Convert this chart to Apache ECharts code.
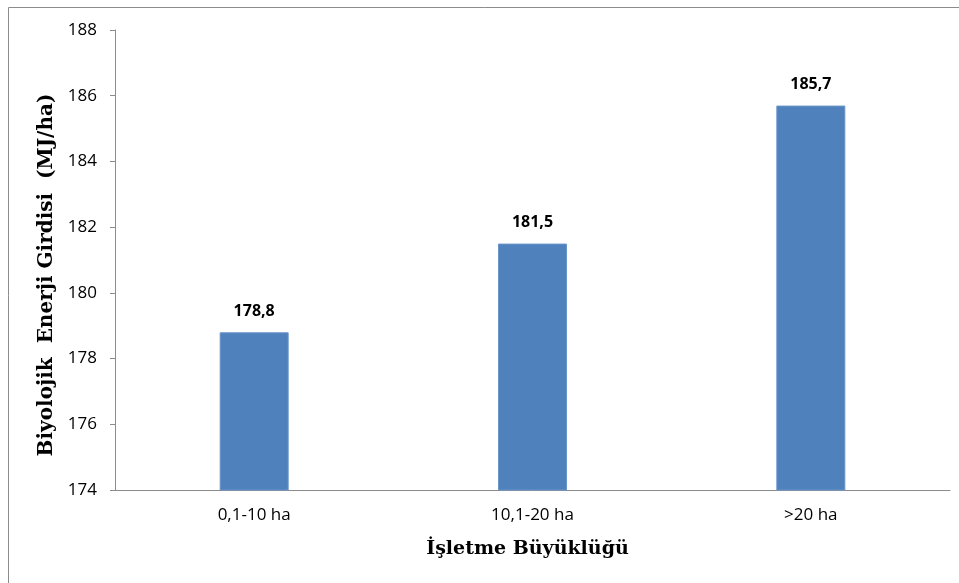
<!DOCTYPE html>
<html>
<head>
<meta charset="utf-8">
<script src="https://cdn.jsdelivr.net/npm/echarts@6/dist/echarts.min.js"></script>
<style>
  html, body { margin: 0; padding: 0; background: #fff; }
  #chart { width: 959px; height: 583px; }
</style>
</head>
<body>
<div id="chart"></div>
<script>
// Farm size classes and biological energy input per hectare
const categories = ['0,1-10 ha', '10,1-20 ha', '>20 ha'];
const energyInput = [178.8, 181.5, 185.7];
const yTicks = { min: 174, max: 188, interval: 2 };

const xTitle = 'İşletme Büyüklüğü';
const yTitle = 'Biyolojik  Enerji Girdisi  (MJ/ha)';

const chart = echarts.init(document.getElementById('chart'), null, { renderer: 'canvas' });

const sansFont = '"Open Sans", "Noto Sans", sans-serif';
const serifFont = '"DejaVu Serif", "Liberation Serif", serif';

chart.setOption({
  animation: false,
  backgroundColor: '#ffffff',
  graphic: [{
    type: 'rect',
    silent: true,
    shape: { x: 8.5, y: 7.5, width: 1000, height: 620 },
    style: { fill: 'none', stroke: '#8c8c8c', lineWidth: 1 }
  }],
  grid: { left: 115, right: 9, top: 30, bottom: 93 },
  xAxis: {
    type: 'category',
    data: categories,
    name: xTitle,
    nameLocation: 'middle',
    nameGap: 50,
    nameTextStyle: { fontFamily: serifFont, fontWeight: 'bold', fontSize: 19, color: '#000', padding: [0, 10, 0, 0] },
    axisLine: { lineStyle: { color: '#8c8c8c', width: 1 } },
    axisTick: { show: false },
    axisLabel: { fontFamily: sansFont, fontSize: 17, color: '#000', margin: 17 }
  },
  yAxis: {
    type: 'value',
    min: yTicks.min,
    max: yTicks.max,
    interval: yTicks.interval,
    name: yTitle,
    nameLocation: 'middle',
    nameGap: 56,
    nameTextStyle: { fontFamily: serifFont, fontWeight: 'bold', fontSize: 20, color: '#000', padding: [0, 30, 0, 0] },
    axisLine: { show: true, lineStyle: { color: '#8c8c8c', width: 1 } },
    axisTick: { show: true, length: 5, lineStyle: { color: '#8c8c8c' } },
    splitLine: { show: false },
    axisLabel: { fontFamily: sansFont, fontSize: 17, color: '#000', margin: 18 }
  },
  series: [{
    type: 'bar',
    data: energyInput,
    barWidth: 69,
    itemStyle: { color: '#4f81bd', borderColor: '#6a95c9', borderWidth: 1 },
    label: {
      show: true,
      position: 'top',
      distance: 13,
      fontFamily: sansFont,
      fontWeight: 'bold',
      fontSize: 16,
      color: '#000',
      formatter: p => String(p.value).replace('.', ',')
    }
  }]
});
</script>
</body>
</html>
